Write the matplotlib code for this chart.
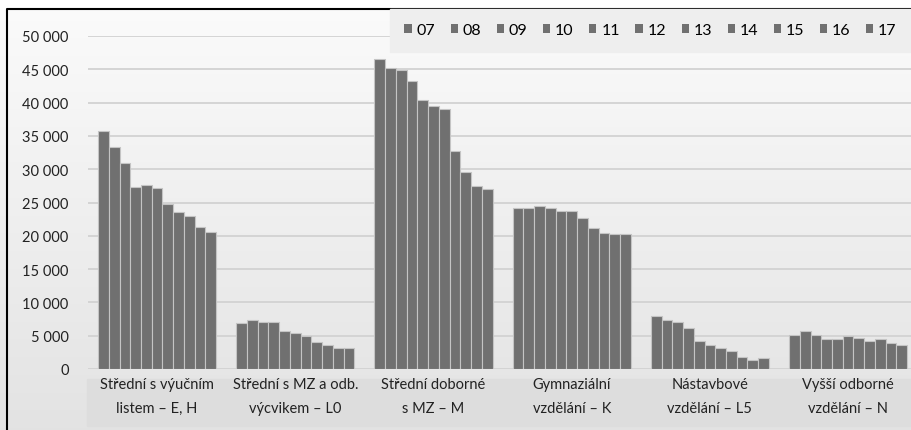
import matplotlib.pyplot as plt
import numpy as np
from matplotlib.patches import Rectangle

plt.rcParams['font.family'] = ['Lato', 'DejaVu Sans']

# Categories (school types) and years (series)
categories = ['Střední s výučním\nlistem – E, H',
              'Střední s MZ a odb.\nvýcvikem – L0',
              'Střední doborné\ns MZ – M',
              'Gymnaziální\nvzdělání – K',
              'Nástavbové\nvzdělání – L5',
              'Vyšší odborné\nvzdělání – N']
years = ['07', '08', '09', '10', '11', '12', '13', '14', '15', '16', '17']

# values for each category, one per year 07..17
vyucni_eh = [35800, 33400, 31000, 27400, 27700, 27200, 24800, 23500, 22900, 21300, 20600]
mz_odb_l0 = [6900, 7300, 7100, 7100, 5750, 5350, 4900, 4000, 3550, 3100, 3100]
odborne_m = [46500, 45200, 44950, 43200, 40350, 39450, 39050, 32700, 29650, 27450, 27000]
gymn_k = [24100, 24100, 24400, 24100, 23700, 23700, 22600, 21100, 20450, 20200, 20200]
nastavb_l5 = [7900, 7300, 7100, 6200, 4250, 3550, 3100, 2700, 1850, 1400, 1600]
vyssi_n = [5050, 5700, 5050, 4450, 4450, 4900, 4600, 4200, 4450, 3950, 3550]

values = np.array([vyucni_eh, mz_odb_l0, odborne_m, gymn_k, nastavb_l5, vyssi_n])

W, H = 911, 431
fig = plt.figure(figsize=(W / 100, H / 100), dpi=100)

# background gradient
bg = fig.add_axes([0, 0, 1, 1], zorder=-10)
grad = np.linspace(0.985, 0.89, 256).reshape(-1, 1)
bg.imshow(np.dstack([grad] * 3), aspect='auto', extent=[0, 1, 0, 1])
bg.set_xlim(0, 1)
bg.set_ylim(0, 1)
bg.axis('off')
# white strip above the frame
bg.add_patch(Rectangle((0, 1 - 10 / H), 1, 10 / H, color='white', zorder=2))
# label band
bg.add_patch(Rectangle((87 / W, 1 - 427 / H), 1, 47 / H, color='#dddddd', zorder=1))
# outer frame
bg.plot([7 / W, 7 / W, 1], [0, 1 - 10 / H, 1 - 10 / H], color='black', lw=1.5, zorder=3)

cell = 138.2
ax = fig.add_axes([88 / W, 1 - 370 / H, 6 * cell / W, 333 / H])
ax.set_facecolor('none')

n = len(years)
group_w = 118 / cell
bar_w = group_w / n
x = np.arange(len(categories)) + 0.5
bars = []
for j, yr in enumerate(years):
    b = ax.bar(x - group_w / 2 + (j + 0.5) * bar_w, values[:, j], width=bar_w,
               color='#707070', edgecolor='#c4c4c4', linewidth=0.8, label=yr, zorder=3)
    bars.append(b)

ax.set_xlim(0, 6)
ax.set_ylim(0, 50000)
ax.set_yticks(np.arange(0, 50001, 5000))
ax.set_yticklabels([f'{v:,}'.replace(',', ' ') for v in range(0, 50001, 5000)])
ax.yaxis.grid(True, color='#d2d2d2', lw=1.3, zorder=0)
ax.tick_params(axis='y', length=0, pad=14, labelsize=10.5, labelcolor='#222222')
ax.set_xticks(x)
ax.set_xticklabels(categories, linespacing=1.85)
ax.tick_params(axis='x', length=0, pad=6, labelsize=10.5, labelcolor='#222222')
for s in ax.spines.values():
    s.set_visible(False)

leg = fig.legend(handles=bars, labels=years, ncol=11, loc='upper left', mode='expand',
                 bbox_to_anchor=(390 / W, 1 - 50 / H, 1 - 390 / W, 40 / H),
                 frameon=True, fancybox=False,
                 fontsize=11.5, handlelength=0.45, handleheight=0.45, handletextpad=0.3,
                 columnspacing=0.5, borderpad=0.9, borderaxespad=0)
leg.get_frame().set_facecolor('#eeeeee')
leg.get_frame().set_edgecolor('#eeeeee')
leg.get_frame().set_alpha(1)
for p in leg.get_patches():
    p.set_edgecolor('none')

fig.savefig('out.png', dpi=100)
